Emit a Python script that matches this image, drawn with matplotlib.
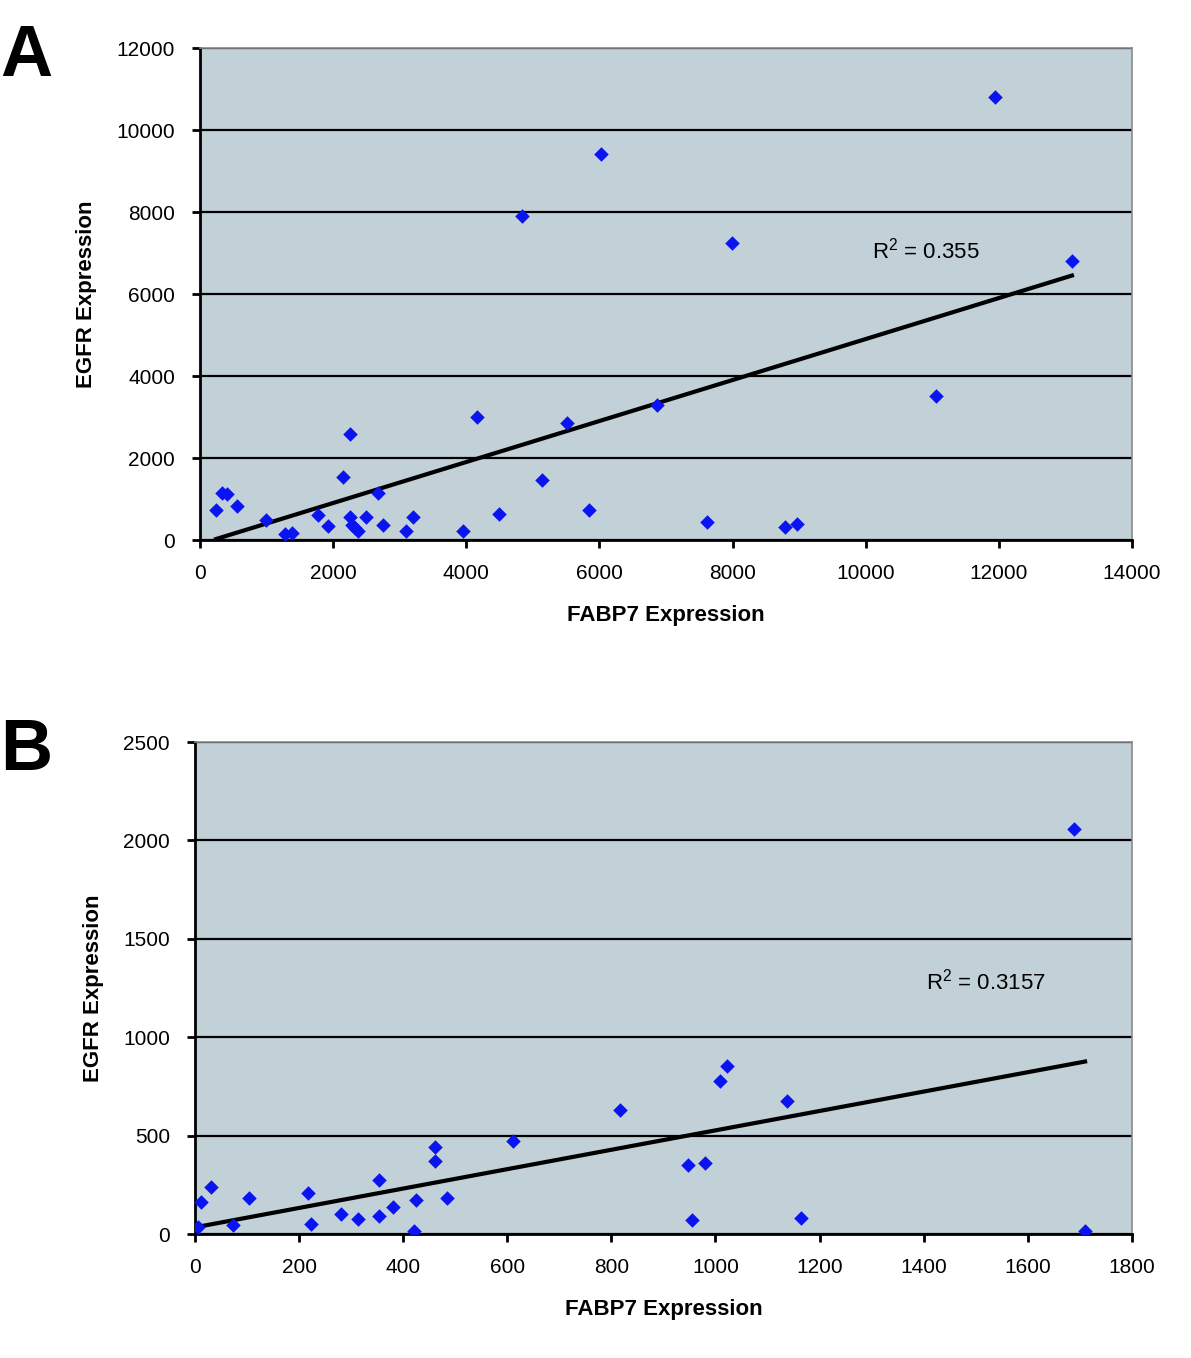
import numpy as np
import matplotlib
matplotlib.use("Agg")
from matplotlib import pyplot as plt

plt.rcParams['font.family'] = ['Liberation Sans', 'DejaVu Sans']

# Panel A data
fabp7_a = [4156, 5508, 2253, 2143, 5132, 330, 410, 240, 551, 991,
           1277, 1377, 1768, 1918, 2253, 2278, 2328, 2378, 2488, 2669,
           2754, 3090, 3205, 3955, 4496, 5848, 6860, 7610, 8787, 8962,
           4836, 6023, 7990, 11941, 13097, 11054]
egfr_a = [3007, 2862, 2578, 1529, 1463, 1140, 1115, 732, 829, 488,
          139, 178, 610, 341, 569, 366, 285, 220, 569, 1138,
          358, 220, 569, 220, 626, 732, 3293, 447, 325, 390,
          7902, 9415, 7244, 10805, 6805, 3512]
r2_a = "0.355"

# Panel B data
fabp7_b = [6, 12, 30, 74, 104, 218, 222, 280, 314, 353,
           353, 381, 425, 421, 461, 461, 485, 611, 817, 1009,
           1023, 1138, 948, 979, 954, 1165, 1710, 1689]
egfr_b = [37, 164, 240, 46, 184, 210, 49, 102, 75, 274,
          91, 139, 173, 17, 444, 372, 184, 474, 630, 777,
          853, 677, 351, 363, 71, 80, 15, 2058]
r2_b = "0.3157"

bg = '#c2d0d8'
dot = '#0a14f0'


def scatter_panel(ax, x, y, xmax, xstep, ymax, ystep, r2, r2_pos):
    ax.set_facecolor(bg)
    ax.scatter(x, y, marker='D', s=55, color=dot, zorder=3, linewidths=0)
    # linear trendline like Excel, over the data range
    k, b = np.polyfit(x, y, 1)
    xs = np.array([min(x), max(x)])
    ax.plot(xs, k * xs + b, color='black', lw=3, zorder=2)
    ax.set_xlim(0, xmax)
    ax.set_ylim(0, ymax)
    ax.set_xticks(np.arange(0, xmax + 1, xstep))
    ax.set_yticks(np.arange(0, ymax + 1, ystep))
    ax.yaxis.grid(True, color='black', lw=1.6)
    ax.set_axisbelow(True)
    ax.tick_params(direction='out', length=6, width=2, labelsize=15)
    ax.tick_params(axis='x', pad=11)
    ax.tick_params(axis='y', pad=12)
    for s in ['left', 'bottom']:
        ax.spines[s].set_linewidth(2)
    for s in ['top', 'right']:
        ax.spines[s].set_color('#8a8a8a')
        ax.spines[s].set_linewidth(1.2)
    ax.set_xlabel('FABP7 Expression', fontsize=16, fontweight='bold', labelpad=16)
    ax.set_ylabel('EGFR Expression', fontsize=16, fontweight='bold', labelpad=14)
    ax.text(r2_pos[0], r2_pos[1], '$\\mathregular{R^2}$ = ' + r2,
            fontsize=16, va='center', ha='left')


fig = plt.figure(figsize=(11.91, 13.58), dpi=100)
ax_a = fig.add_axes([0.1679, 0.6023, 0.7826, 0.3623])
ax_b = fig.add_axes([0.1637, 0.0913, 0.7867, 0.3623])

scatter_panel(ax_a, fabp7_a, egfr_a, 14000, 2000, 12000, 2000, r2_a, (10100, 7070))
scatter_panel(ax_b, fabp7_b, egfr_b, 1800, 200, 2500, 500, r2_b, (1405, 1285))

fig.text(0.0, 0.958, 'A', fontsize=52, fontweight='bold', va='center', ha='left')
fig.text(0.0, 0.447, 'B', fontsize=52, fontweight='bold', va='center', ha='left')

fig.savefig('out.png', dpi=100, facecolor='white')
